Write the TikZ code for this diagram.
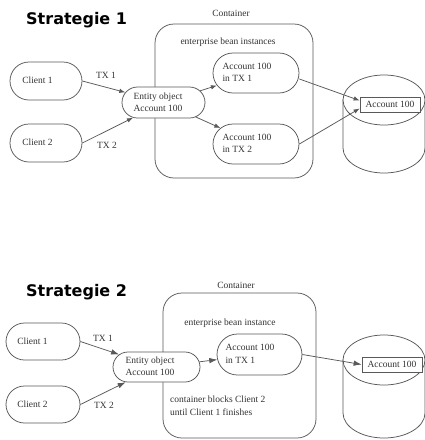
\documentclass[tikz,border=0pt]{standalone}
\usepackage{fontspec}
\setmainfont{Liberation Serif}
\newfontfamily\titlefont{DejaVu Sans}
\usetikzlibrary{shapes.misc,arrows.meta}

\definecolor{edge}{gray}{0.35}
\definecolor{ink}{gray}{0.2}

% left-set text block, pulled left by half of #1 inside its node
\newcommand{\nudge}[2]{\hspace*{-#1}\begin{tabular}{@{}l@{}}#2\end{tabular}}

\tikzset{
  pill/.style={rounded rectangle, draw=edge, line width=0.75pt,
    inner sep=0pt, fill=white},
  plain/.style={inner sep=0pt, align=left},
  boxlabel/.style={draw=edge, line width=0.75pt, inner sep=0pt, fill=white,
    minimum width=60pt, minimum height=15pt},
  frame/.style={draw=edge, line width=0.75pt, rounded corners=19pt},
  dbline/.style={draw=edge, line width=0.75pt, fill=white},
  arrA/.style={draw=edge, line width=0.75pt, -{Latex[length=6pt,width=4.5pt]}},
  arrB/.style={draw=edge, line width=0.75pt, -{Latex[length=8pt,width=5.5pt]}},
  heading/.style={inner sep=0pt, anchor=base west, text=black,
    font=\titlefont\bfseries\fontsize{16}{18}\selectfont},
}

\begin{document}
\begin{tikzpicture}[x=1pt,y=-1pt,
  every node/.append style={font=\fontsize{9.5}{12.5}\selectfont, text=ink}]
\useasboundingbox[fill=white] (0,0) rectangle (425,440);

% ---------------- Strategie 1 ----------------
\node[heading] (t1) at (26,24) {Strategie 1};
\node[plain] (cont1lbl) at (231,13) {Container};
\draw[frame] (155,24) rectangle (313,178);
\node[plain] (ebi1) at (228,42) {enterprise bean instances};

\node[pill, minimum width=72pt, minimum height=38pt] (c1) at (46,81) {\nudge{17pt}{Client 1}};
\node[pill, minimum width=72pt, minimum height=38pt] (c2) at (46,143) {\nudge{17pt}{Client 2}};
\node[pill, minimum width=83pt, minimum height=31pt] (ent) at (163.5,102.5)
  {\nudge{11pt}{Entity object\\[-0.5pt]Account 100}};
\node[pill, minimum width=86pt, minimum height=40pt] (a1) at (256,73)
  {\nudge{18pt}{Account 100\\in TX 1}};
\node[pill, minimum width=86pt, minimum height=40pt] (a2) at (256,144)
  {\nudge{18pt}{Account 100\\in TX 2}};

% database
\path[dbline] (343,100) -- (343,148)
  arc[start angle=180, end angle=360, x radius=41pt, y radius=25pt] -- (425,100) -- cycle;
\draw[dbline] (384,100) ellipse [x radius=41pt, y radius=25pt];
\node[boxlabel] (db1) at (390,104.5) {Account 100};

\node[plain] (tx1a) at (106,75) {TX 1};
\node[plain] (tx2a) at (107,145) {TX 2};

\draw[arrA] (c1.east) -- (ent);
\draw[arrA] (c2.east) -- (ent);
\draw[arrA] (ent) -- (a1);
\draw[arrA] (ent) -- (a2);
\draw[arrA] ([yshift=-6pt]a1.east) -- ([yshift=4pt]db1.west);
\draw[arrA] (a2.east) -- ([yshift=-4pt]db1.west);

% ---------------- Strategie 2 ----------------
\node[heading] (t2) at (26,296) {Strategie 2};
\node[plain] (cont2lbl) at (236,285) {Container};
\draw[frame] (163,293) rectangle (316,438);
\node[plain] (ebi2) at (230,323) {enterprise bean instance};

\node[pill, minimum width=74pt, minimum height=37pt] (d1) at (43,341.5) {\nudge{21pt}{Client 1}};
\node[pill, minimum width=74pt, minimum height=37pt] (d2) at (43,404.5) {\nudge{21pt}{Client 2}};
\node[pill, minimum width=87pt, minimum height=30pt] (ent2) at (156.5,367)
  {\nudge{13pt}{Entity object\\[-0.5pt]Account 100}};
\node[pill, minimum width=85pt, minimum height=41pt] (b1) at (259.5,354.5)
  {\nudge{19pt}{Account 100\\in TX 1}};
\node[plain, anchor=west] (note) at (170,406)
  {container blocks Client 2\\[0.5pt]until Client 1 finishes};

\path[dbline] (343,360) -- (343,413)
  arc[start angle=180, end angle=360, x radius=41pt, y radius=25pt] -- (425,360) -- cycle;
\draw[dbline] (384,360) ellipse [x radius=41pt, y radius=25pt];
\node[boxlabel] (db2) at (392,364.5) {Account 100};

\node[plain] (tx1b) at (103,338) {TX 1};
\node[plain] (tx2b) at (104,405) {TX 2};

\draw[arrB] (d1.east) -- (ent2);
\draw[arrB] (d2.east) -- (ent2);
\draw[arrB] (ent2) -- (b1);
\draw[arrB] (b1.east) -- (db2.west);
\end{tikzpicture}
\end{document}
